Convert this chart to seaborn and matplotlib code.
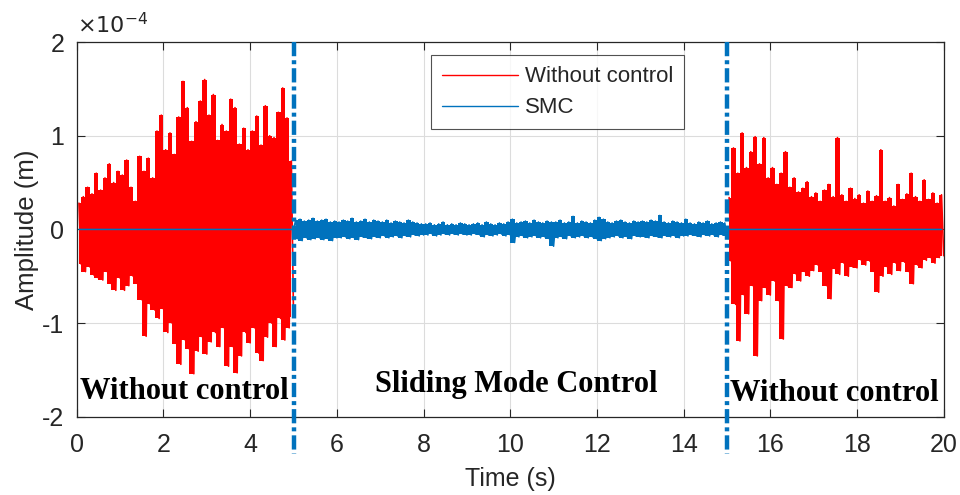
import numpy as np
import pandas as pd
import matplotlib
matplotlib.use("Agg")
import matplotlib.pyplot as plt
import seaborn as sns
from matplotlib.lines import Line2D

# ==========================================
# DATOS (en unidades de 1e-4 m)
# ==========================================
# Tramo 1 sin control (0-5 s): envolvente superior / inferior cada 0.1 s
t_red1 = np.round(np.arange(0.05, 5.0, 0.1), 2)
red1_upper = [0.28, 0.35, 0.45, 0.38, 0.60, 0.42, 0.55, 0.70, 0.50, 0.62,
              0.58, 0.74, 0.45, 0.30, 0.78, 0.62, 0.76, 0.55, 1.05, 1.22,
              0.85, 1.03, 0.80, 1.20, 1.58, 1.30, 0.94, 1.15, 1.37, 1.60,
              1.22, 1.44, 0.95, 1.12, 1.05, 1.39, 1.30, 0.91, 1.08, 0.85,
              1.05, 1.21, 0.90, 1.32, 1.00, 0.98, 1.25, 1.51, 1.19, 0.73]
red1_lower = [-0.37, -0.45, -0.40, -0.49, -0.52, -0.54, -0.45, -0.58, -0.65, -0.52,
              -0.65, -0.60, -0.50, -0.58, -0.75, -1.14, -0.80, -0.86, -0.95, -0.85,
              -1.10, -1.00, -1.22, -1.44, -1.18, -1.28, -1.54, -1.30, -1.15, -1.33,
              -1.20, -1.10, -1.25, -1.05, -1.46, -1.25, -1.53, -1.35, -1.10, -1.21,
              -1.05, -1.32, -1.40, -1.15, -1.00, -1.25, -0.95, -1.18, -1.05, -0.93]

# Tramo SMC (5-15 s)
t_smc = np.round(np.arange(5.05, 15.0, 0.1), 2)
smc_upper = [0.10, 0.11, 0.09, 0.10, 0.12, 0.09, 0.10, 0.11, 0.08, 0.09,
             0.08, 0.10, 0.09, 0.12, 0.08, 0.09, 0.11, 0.08, 0.10, 0.09,
             0.08, 0.10, 0.07, 0.09, 0.08, 0.07, 0.10, 0.08, 0.07, 0.06,
             0.06, 0.07, 0.05, 0.06, 0.08, 0.05, 0.06, 0.05, 0.07, 0.06,
             0.05, 0.06, 0.07, 0.05, 0.08, 0.06, 0.05, 0.07, 0.06, 0.08,
             0.11, 0.07, 0.08, 0.09, 0.07, 0.10, 0.08, 0.07, 0.09, 0.08,
             0.08, 0.10, 0.07, 0.08, 0.14, 0.07, 0.09, 0.08, 0.07, 0.10,
             0.13, 0.11, 0.08, 0.07, 0.09, 0.10, 0.08, 0.07, 0.09, 0.08,
             0.09, 0.08, 0.10, 0.09, 0.15, 0.08, 0.07, 0.09, 0.08, 0.07,
             0.11, 0.07, 0.06, 0.08, 0.07, 0.09, 0.06, 0.07, 0.08, 0.07]
smc_lower = [-0.10, -0.12, -0.09, -0.11, -0.10, -0.09, -0.11, -0.10, -0.12, -0.09,
             -0.09, -0.08, -0.10, -0.09, -0.11, -0.08, -0.09, -0.10, -0.08, -0.09,
             -0.07, -0.09, -0.08, -0.07, -0.09, -0.07, -0.08, -0.06, -0.07, -0.06,
             -0.06, -0.05, -0.07, -0.06, -0.05, -0.06, -0.05, -0.06, -0.05, -0.06,
             -0.06, -0.05, -0.06, -0.08, -0.06, -0.07, -0.06, -0.05, -0.07, -0.06,
             -0.14, -0.08, -0.07, -0.09, -0.08, -0.07, -0.09, -0.08, -0.10, -0.18,
             -0.09, -0.08, -0.10, -0.07, -0.09, -0.08, -0.07, -0.09, -0.08, -0.10,
             -0.12, -0.10, -0.09, -0.08, -0.07, -0.09, -0.08, -0.10, -0.07, -0.08,
             -0.08, -0.09, -0.07, -0.08, -0.09, -0.07, -0.08, -0.07, -0.09, -0.07,
             -0.07, -0.06, -0.07, -0.08, -0.06, -0.07, -0.06, -0.08, -0.06, -0.07]

# Tramo 2 sin control (15-20 s)
t_red2 = np.round(np.arange(15.05, 20.0, 0.1), 2)
red2_upper = [0.34, 0.87, 0.60, 1.03, 0.66, 0.83, 0.99, 0.70, 0.98, 0.55,
              0.66, 0.48, 0.60, 0.83, 0.45, 0.55, 0.40, 0.44, 0.51, 0.35,
              0.39, 0.30, 0.42, 0.48, 0.35, 0.98, 0.37, 0.30, 0.44, 0.33,
              0.37, 0.28, 0.41, 0.30, 0.36, 0.85, 0.30, 0.34, 0.25, 0.48,
              0.32, 0.38, 0.60, 0.35, 0.30, 0.53, 0.32, 0.39, 0.28, 0.37]
red2_lower = [-0.34, -0.80, -1.19, -0.70, -0.90, -0.60, -1.35, -0.76, -0.62, -0.70,
              -0.55, -0.76, -1.17, -0.60, -0.62, -0.48, -0.55, -0.45, -0.50, -0.44,
              -0.38, -0.45, -0.60, -0.74, -0.42, -0.48, -0.36, -0.50, -0.40, -0.41,
              -0.33, -0.38, -0.34, -0.45, -0.67, -0.50, -0.40, -0.48, -0.36, -0.44,
              -0.35, -0.45, -0.58, -0.38, -0.41, -0.33, -0.30, -0.36, -0.30, -0.28]

x_ticks = [0, 2, 4, 6, 8, 10, 12, 14, 16, 18, 20]
y_ticks = [-2, -1, 0, 1, 2]
switch_times = [5, 15]

ROJO = "#FF0000"
AZUL = "#0072BD"
EJE = "#262626"


def intercalar(t, upper, lower):
    """Alterna pico superior e inferior para dibujar la señal densa."""
    x = np.column_stack([t, t + 0.05]).ravel()
    y = np.column_stack([upper, lower]).ravel()
    return pd.DataFrame({"t": x, "amp": y})


# ==========================================
# FIGURA
# ==========================================
sns.set_style("ticks")
plt.rcParams["font.family"] = ["Liberation Sans", "DejaVu Sans"]
plt.rcParams["axes.unicode_minus"] = False

fig = plt.figure(figsize=(9.6, 4.95), dpi=100)
ax = fig.add_axes([0.080, 0.158, 0.903, 0.757])

df_r1 = intercalar(t_red1, red1_upper, red1_lower)
df_r2 = intercalar(t_red2, red2_upper, red2_lower)
df_smc = intercalar(t_smc, smc_upper, smc_lower)
# la serie SMC vale cero fuera de 5-15 s (línea de cero sobre el rojo)
df_smc = pd.concat([pd.DataFrame({"t": [0.05, 5.0], "amp": [0, 0]}),
                    df_smc,
                    pd.DataFrame({"t": [15.0, 19.95], "amp": [0, 0]})],
                   ignore_index=True)

# núcleo macizo de la señal densa
for t, up, lo, c in ((t_red1, red1_upper, red1_lower, ROJO),
                     (t_red2, red2_upper, red2_lower, ROJO),
                     (t_smc, smc_upper, smc_lower, AZUL)):
    ax.fill_between(t, lo, up, step="mid", color=c, lw=0, zorder=2)

for df in (df_r1, df_r2):
    sns.lineplot(data=df, x="t", y="amp", color=ROJO, lw=1.2,
                 estimator=None, sort=False, ax=ax, zorder=2)
sns.lineplot(data=df_smc, x="t", y="amp", color=AZUL, lw=1.1,
             estimator=None, sort=False, ax=ax, zorder=3)

# líneas de conmutación
for ts in switch_times:
    ax.plot([ts, ts], [2, -2.4], color=AZUL, lw=3.2,
            linestyle=(0, (3.2, 0.9, 0.9, 0.9)), clip_on=False, zorder=5)

ax.set_xlim(0, 20)
ax.set_ylim(-2, 2)
ax.set_xticks(x_ticks)
ax.set_yticks(y_ticks)
ax.grid(True, color="#dcdcdc", lw=0.8)
ax.set_axisbelow(True)
ax.tick_params(direction="in", length=6, width=0.8, top=True, right=True,
               labelsize=18, colors=EJE)
ax.tick_params(axis="x", pad=12)
ax.tick_params(axis="y", pad=9)
for s in ax.spines.values():
    s.set_color(EJE)
    s.set_linewidth(0.9)

ax.set_xlabel("Time (s)", fontsize=18, color=EJE, labelpad=7)
ax.set_ylabel("Amplitude (m)", fontsize=18.5, color=EJE, labelpad=2)
ax.text(0.0, 1.01, r"$\times10^{-4}$", transform=ax.transAxes,
        fontsize=16, color=EJE, ha="left", va="bottom")

# textos de las zonas
serif = dict(family=["Liberation Serif", "DejaVu Serif"], fontweight="bold",
             fontsize=22, color="black", va="center")
ax.text(0.07, -1.73, "Without control", ha="left", **serif)
ax.text(10.15, -1.66, "Sliding Mode Control", ha="center", **serif)
ax.text(15.07, -1.75, "Without control", ha="left", **serif)

handles = [Line2D([], [], color=ROJO, lw=1.0), Line2D([], [], color=AZUL, lw=1.0)]
leg = ax.legend(handles, ["Without control", "SMC"], loc="upper left",
                bbox_to_anchor=(0.409, 0.965), fontsize=16, frameon=True,
                fancybox=False, handlelength=3.4, borderpad=0.5,
                labelspacing=0.45, handletextpad=0.3, borderaxespad=0)
leg.get_frame().set_edgecolor(EJE)
leg.get_frame().set_linewidth(0.8)

fig.savefig("out.png", dpi=100)
